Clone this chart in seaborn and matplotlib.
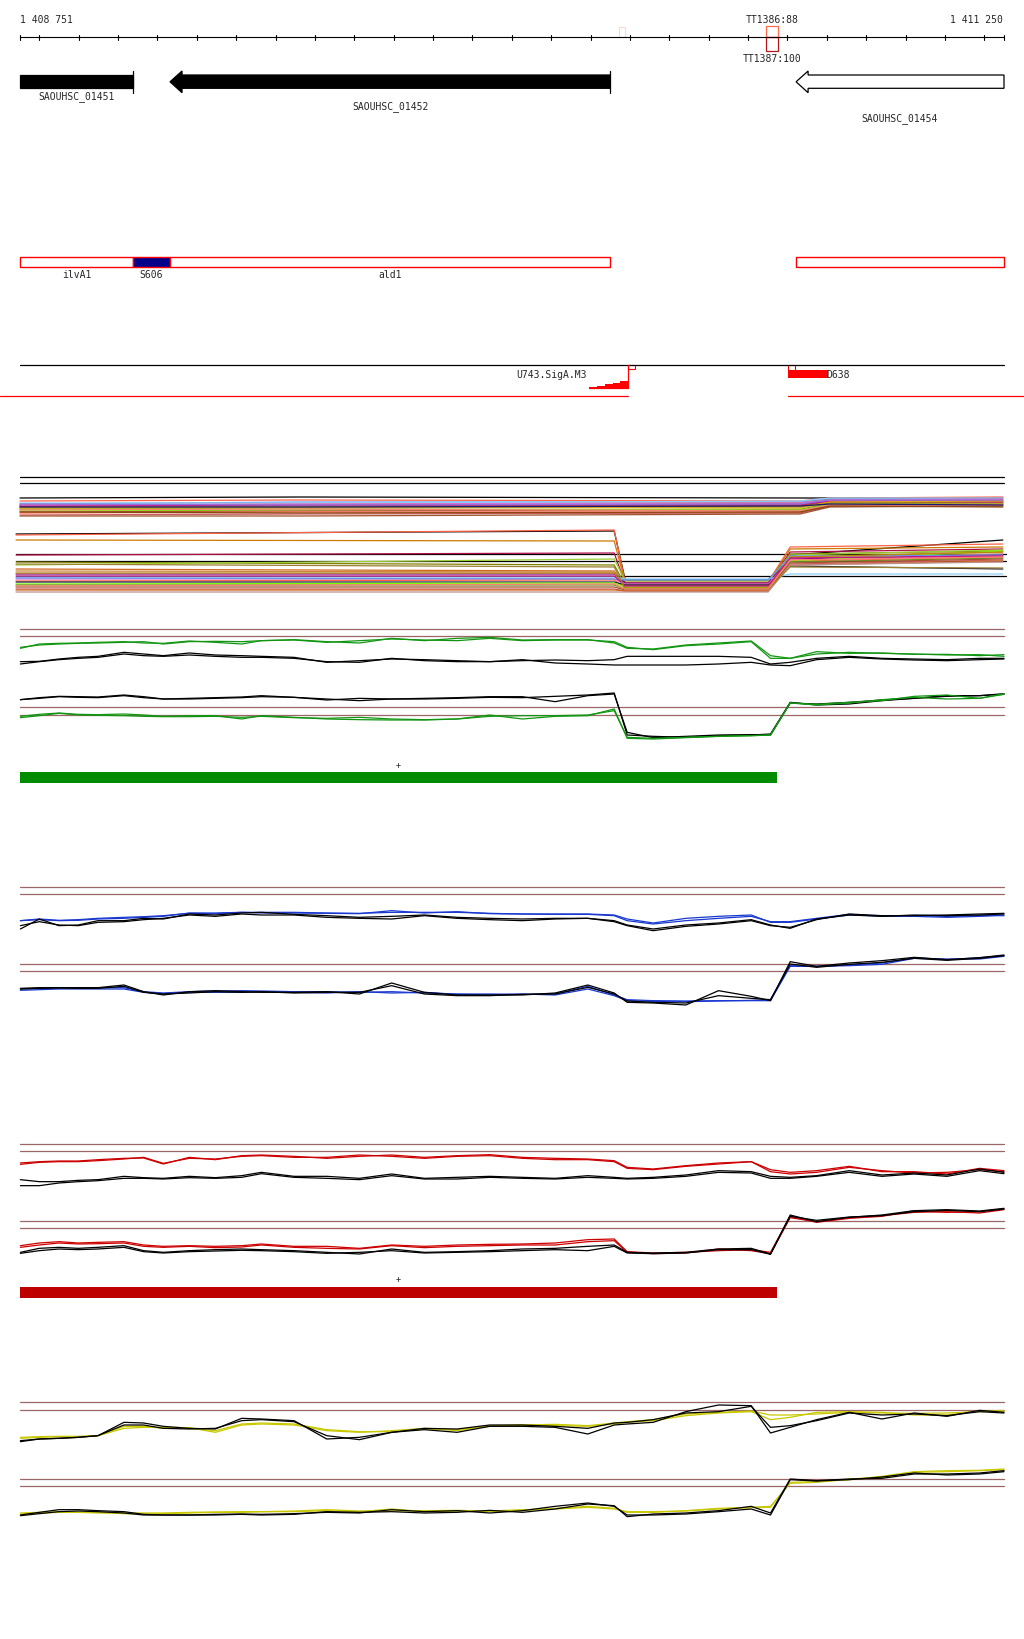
import numpy as np
import pandas as pd
import matplotlib.pyplot as plt
from matplotlib.patches import Rectangle
import seaborn as sns

sns.set_style("white")
plt.rcParams['font.family'] = ['DejaVu Sans Mono']

# ---------------- data ----------------
region_start, region_end = 1408751, 1411250

gene_names = ["SAOUHSC_01451", "SAOUHSC_01452", "SAOUHSC_01454"]
gene_start = [1408751, 1409132, 1410722]
gene_end = [1409038, 1410250, 1411250]
gene_fill = ["black", "black", "white"]
gene_arrow = [False, True, True]
gene_endtick = [True, True, False]
gene_label_y = [97, 106.5, 118.5]

term_names = ["TT1386:88", "TT1387:100"]
term_start = [1410646, 1410646]
term_end = [1410676, 1410676]
term_colors = ["#ff6a4a", "#b01818"]
faint_term = (1410271, 1410288)

feat_names = ["ilvA1", "S606", "ald1", ""]
feat_start = [1408751, 1409038, 1409132, 1410722]
feat_end = [1409038, 1409132, 1410250, 1411250]
feat_fill = ["white", "#00008b", "white", "white"]

# promoter ramp U743.SigA.M3 (stepped), and D638 block
u743_pos = [1410196, 1410216, 1410236, 1410256, 1410276, 1410295]
u743_height = [1.0, 2.5, 4.0, 5.5, 7.0, 7.0]
d638_start, d638_end = 1410702, 1410803
red_line_breaks = [(1408700, 1410295), (1410701, 1411301)]

# multi-sample track (many conditions), upper group
up_knots = [1408751, 1409462, 1410732, 1410808, 1411247]
up_colors = ["black", "tomato", "cornflowerblue", "chocolate", "purple", "peru",
             "olive", "darkgoldenrod", "lawngreen", "sienna", "tomato", "indianred",
             "sienna", "lightskyblue", "mediumvioletred", "yellowgreen", "orchid",
             "salmon", "goldenrod", "#8b4513", "mediumpurple", "midnightblue"]
up_levels = [
    [499, 498, 499, 499, 499], [502, 501, 502, 499, 498], [505, 503, 503, 500, 500],
    [506, 505, 504, 501, 501], [507, 507, 505, 502, 502], [508, 506, 506, 503, 503],
    [509, 508, 507, 503, 504], [510, 509, 508, 504, 504], [512, 511, 510, 505, 506],
    [513, 512, 511, 504, 505], [514, 513, 513, 506, 505], [516, 515, 514, 507, 507],
    [517, 517, 515, 508, 507], [504, 504, 502, 499, 499], [507, 506, 506, 502, 503],
    [510, 510, 511, 505, 505], [506, 505, 504, 501, 500], [511, 510, 512, 506, 506],
    [509, 508, 509, 503, 502], [513, 514, 513, 507, 508], [505, 506, 505, 501, 501],
    [508, 508, 507, 505, 506],
]
# lower group: left, left-end, dip, right-start, right-end
lo_knots = [1408741, 1410260, 1410288, 1410651, 1410707, 1411247]
lo_colors = ["black", "tomato", "#cc7a00", "#b0104a", "olive", "yellowgreen",
             "chocolate", "peru", "purple", "lightskyblue", "orchid", "tomato",
             "#1a1a40", "lawngreen", "olivedrab", "sienna", "indianred", "chocolate",
             "rosybrown", "cornflowerblue", "darkgoldenrod", "mediumvioletred",
             "#9b8030", "salmon"]
lo_levels = [
    [535, 532, 581, 556, 541], [536, 531, 583, 548, 545], [541, 542, 584, 550, 548],
    [556, 554, 585, 553, 550], [563, 566, 586, 555, 552], [566, 560, 582, 556, 551],
    [570, 572, 588, 558, 553], [572, 573, 587, 559, 555], [575, 575, 584, 560, 556],
    [578, 578, 580, 575, 575], [580, 580, 585, 561, 557], [582, 581, 589, 562, 558],
    [583, 583, 586, 567, 570], [585, 584, 588, 562, 552], [586, 586, 590, 563, 559],
    [588, 588, 591, 564, 560], [590, 590, 592, 565, 561], [591, 591, 592, 566, 562],
    [593, 593, 593, 566, 563], [579, 580, 581, 557, 556], [574, 574, 589, 558, 553],
    [577, 577, 587, 559, 557], [565, 568, 590, 568, 569], [587, 585, 590, 561, 558],
]
multi_ref_y = [478.3, 484.3, 555.3, 562.3, 577.3]

# coverage tracks: common positions
pos = [1408752, 1408800, 1408850, 1408899, 1408949, 1409015, 1409065, 1409115,
       1409181, 1409247, 1409314, 1409364, 1409447, 1409530, 1409613, 1409695,
       1409778, 1409861, 1409944, 1410027, 1410110, 1410193, 1410260, 1410293,
       1410359, 1410442, 1410525, 1410608, 1410657, 1410707, 1410774, 1410857,
       1410940, 1411022, 1411105, 1411188, 1411250]

green_up_a = [85, 78, 75, 73, 72, 70, 68, 75, 68, 67, 68, 65, 63, 70, 65, 60, 63, 65, 58,
              65, 63, 63, 68, 85, 92, 80, 75, 68, 118, 118, 105, 100, 103, 105, 108, 107, 112]
green_up_b = [88, 75, 73, 72, 70, 68, 72, 73, 66, 70, 75, 65, 62, 68, 72, 58, 65, 58, 55,
              63, 62, 62, 72, 88, 90, 78, 72, 66, 110, 118, 98, 103, 102, 106, 106, 110, 107]
green_upk_a = [128, 127, 120, 115, 112, 100, 105, 110, 102, 108, 110, 112, 115, 130, 125, 120, 122, 125, 128,
               125, 123, 125, 122, 112, 112, 112, 112, 115, 135, 130, 118, 112, 118, 120, 122, 118, 118]
green_upk_b = [135, 128, 122, 118, 115, 105, 110, 112, 108, 112, 115, 115, 118, 128, 130, 118, 125, 128, 128,
               122, 132, 135, 138, 138, 138, 138, 135, 130, 138, 140, 122, 115, 120, 123, 125, 122, 120]
green_lok_a = [242, 236, 232, 233, 234, 228, 233, 240, 238, 236, 234, 230, 235, 243, 238, 240, 240, 238, 235,
               236, 232, 228, 222, 348, 352, 355, 350, 348, 345, 250, 258, 255, 245, 238, 230, 230, 224]
green_lok_b = [242, 238, 233, 235, 236, 230, 236, 240, 240, 238, 236, 233, 235, 240, 245, 240, 238, 236, 233,
               233, 248, 230, 225, 340, 356, 352, 348, 347, 348, 252, 255, 250, 243, 238, 232, 230, 226]
green_lo_a = [296, 290, 283, 288, 289, 290, 292, 293, 293, 292, 295, 292, 296, 298, 295, 300, 302, 300, 292,
              290, 290, 288, 275, 355, 358, 355, 352, 350, 348, 252, 256, 250, 245, 232, 228, 238, 224]
green_lo_b = [292, 286, 282, 286, 287, 285, 288, 292, 290, 290, 300, 290, 295, 300, 302, 303, 303, 300, 288,
              300, 292, 290, 270, 358, 360, 356, 352, 350, 348, 252, 258, 252, 242, 235, 240, 238, 226]

blue_up_a = [125, 122, 125, 124, 120, 118, 115, 112, 102, 102, 100, 100, 100, 102, 103, 100, 100, 100, 103,
             105, 105, 105, 108, 120, 132, 118, 112, 108, 130, 130, 120, 108, 110, 110, 112, 110, 110]
blue_up_b = [125, 120, 124, 122, 118, 115, 113, 110, 103, 104, 100, 102, 102, 103, 104, 95, 102, 98, 104,
             105, 106, 106, 110, 125, 135, 125, 118, 112, 128, 128, 118, 106, 112, 112, 115, 112, 108]
blue_upk_a = [150, 120, 140, 138, 125, 125, 118, 120, 105, 108, 102, 100, 106, 110, 115, 112, 108, 115, 118,
              120, 118, 118, 128, 140, 155, 142, 135, 125, 140, 145, 122, 105, 110, 110, 108, 105, 103]
blue_upk_b = [140, 128, 138, 140, 130, 128, 122, 118, 108, 112, 105, 108, 108, 115, 118, 120, 110, 118, 122,
              125, 120, 118, 125, 138, 150, 138, 132, 122, 138, 148, 120, 108, 112, 108, 110, 108, 105]
blue_lo_a = [330, 328, 326, 326, 326, 326, 338, 342, 338, 336, 335, 336, 338, 338, 340, 338, 342, 345, 345,
             346, 345, 322, 348, 362, 365, 366, 365, 365, 365, 262, 262, 260, 256, 238, 240, 240, 232]
blue_lo_b = [334, 332, 330, 330, 330, 330, 340, 344, 340, 340, 340, 338, 340, 342, 338, 342, 340, 346, 348,
             345, 348, 330, 350, 365, 367, 368, 366, 364, 362, 260, 262, 258, 252, 236, 242, 236, 230]
blue_lok_a = [328, 326, 326, 326, 326, 318, 338, 348, 338, 335, 338, 340, 340, 338, 345, 312, 340, 348, 348,
              348, 342, 318, 342, 370, 372, 378, 335, 352, 365, 248, 262, 252, 245, 235, 242, 236, 228]
blue_lok_b = [330, 328, 327, 328, 328, 322, 340, 345, 342, 338, 340, 338, 342, 340, 340, 320, 345, 350, 350,
              346, 345, 325, 345, 366, 370, 372, 350, 358, 362, 255, 265, 256, 250, 238, 244, 238, 230]

red_up_a = [72, 68, 66, 66, 62, 58, 57, 75, 55, 62, 50, 48, 52, 58, 52, 48, 55, 50, 47,
            55, 58, 60, 65, 85, 90, 80, 72, 68, 98, 105, 100, 85, 95, 102, 100, 92, 98]
red_up_b = [76, 70, 68, 68, 65, 60, 55, 73, 58, 60, 52, 50, 55, 55, 48, 52, 58, 52, 50,
            58, 62, 62, 68, 88, 92, 82, 75, 68, 92, 100, 95, 82, 98, 98, 105, 88, 95]
red_upk_a = [122, 128, 128, 124, 122, 112, 116, 118, 112, 116, 110, 100, 112, 112, 118, 105, 118, 115, 112,
             115, 118, 110, 115, 118, 115, 108, 95, 98, 112, 115, 110, 95, 108, 102, 108, 90, 100]
red_upk_b = [140, 140, 132, 128, 125, 118, 118, 120, 116, 118, 115, 104, 115, 118, 122, 110, 120, 120, 115,
             118, 120, 115, 118, 120, 118, 112, 100, 102, 118, 118, 112, 100, 112, 105, 112, 95, 104]
red_lo_a = [320, 312, 308, 312, 310, 308, 318, 322, 320, 322, 320, 315, 322, 322, 328, 318, 322, 318, 316,
            315, 312, 302, 300, 338, 342, 340, 335, 332, 340, 232, 250, 238, 232, 215, 220, 218, 210]
red_lo_b = [325, 318, 312, 315, 314, 312, 322, 325, 322, 326, 324, 318, 325, 328, 330, 320, 326, 322, 320,
            318, 318, 308, 305, 340, 344, 342, 330, 335, 344, 236, 248, 236, 230, 220, 218, 222, 212]
red_lok_a = [340, 328, 325, 328, 325, 320, 335, 340, 335, 332, 330, 332, 335, 340, 345, 330, 340, 338, 335,
             330, 328, 322, 318, 340, 342, 340, 330, 328, 345, 228, 248, 235, 228, 215, 212, 216, 208]
red_lok_b = [343, 335, 330, 332, 330, 325, 338, 342, 338, 336, 334, 335, 338, 343, 340, 335, 342, 340, 338,
             335, 332, 335, 322, 342, 344, 342, 332, 332, 346, 232, 244, 234, 230, 218, 214, 218, 210]

yel_up_a = [145, 143, 142, 142, 140, 118, 115, 115, 116, 130, 108, 105, 108, 125, 130, 125, 118, 125, 110,
            108, 106, 110, 102, 98, 92, 75, 70, 66, 78, 78, 75, 70, 72, 73, 72, 68, 65]
yel_up_b = [148, 145, 143, 143, 140, 112, 112, 118, 118, 125, 105, 102, 105, 122, 128, 128, 120, 122, 112,
            108, 110, 112, 105, 100, 95, 80, 72, 68, 92, 85, 70, 68, 70, 78, 78, 65, 68]
yel_upk_a = [155, 150, 148, 145, 140, 100, 102, 112, 118, 120, 88, 90, 95, 150, 145, 130, 118, 120, 108,
             108, 112, 118, 102, 100, 92, 72, 68, 52, 115, 110, 95, 72, 78, 75, 80, 68, 72]
yel_upk_b = [158, 150, 148, 145, 140, 108, 108, 118, 120, 118, 95, 92, 98, 140, 152, 130, 122, 130, 112,
             112, 115, 135, 108, 105, 100, 68, 48, 50, 132, 115, 92, 70, 90, 72, 82, 64, 70]
yel_lo_a = [372, 370, 368, 370, 372, 372, 372, 372, 370, 369, 368, 368, 366, 362, 366, 366, 365, 364, 366,
            362, 360, 355, 360, 368, 368, 366, 360, 356, 355, 280, 278, 272, 262, 248, 245, 244, 240]
yel_lo_b = [375, 372, 370, 370, 370, 374, 375, 374, 372, 370, 370, 368, 368, 365, 368, 360, 368, 366, 368,
            365, 358, 352, 358, 370, 370, 365, 358, 355, 352, 283, 280, 270, 265, 250, 248, 245, 242]
yel_lok_a = [378, 370, 362, 362, 365, 368, 376, 378, 378, 378, 376, 378, 376, 368, 370, 368, 372, 370, 364,
             370, 360, 345, 350, 383, 375, 372, 365, 352, 372, 270, 275, 270, 268, 255, 255, 252, 245]
yel_lok_b = [380, 374, 368, 366, 368, 372, 378, 378, 378, 376, 375, 376, 374, 370, 372, 362, 368, 365, 372,
             365, 352, 342, 352, 378, 378, 375, 368, 360, 378, 272, 276, 272, 264, 252, 258, 255, 248]

# transcript blocks under green and red tracks
transcript_start, transcript_end = 1408751, 1410674

# ---------------- layout ----------------
W, H = 1024, 1640
bp_per_px = (region_end - region_start) / (1004 - 20)
XLIM = (region_start - 20 * bp_per_px, region_end + (W - 1004) * bp_per_px)
REF_COLOR = "#9c6666"

fig = plt.figure(figsize=(W / 100, H / 100), dpi=100)
ax = fig.add_axes([0, 0, 1, 1])
ax.set_xlim(*XLIM)
ax.set_ylim(H, 0)
ax.axis("off")

# ruler
ax.plot([region_start, region_end], [38, 38], color="black", lw=0.8)
ticks = [region_start] + list(range(1408800, region_end, 100)) + [region_end]
for t in ticks:
    ax.plot([t, t], [35.7, 40.7], color="black", lw=0.8)
ax.text(region_start, 20, f"{region_start:,}".replace(",", " "), ha="left", va="center", fontsize=7)
ax.text(region_end - 3, 20, f"{region_end:,}".replace(",", " "), ha="right", va="center", fontsize=7)

# terminators
ax.add_patch(Rectangle((faint_term[0], 28), faint_term[1] - faint_term[0], 10,
                       facecolor="white", edgecolor="#ffd8c8", lw=0.8))
ax.add_patch(Rectangle((term_start[0], 26.7), term_end[0] - term_start[0], 11.6,
                       facecolor="none", edgecolor=term_colors[0], lw=0.9))
ax.add_patch(Rectangle((term_start[1], 38.3), term_end[1] - term_start[1], 14,
                       facecolor="none", edgecolor=term_colors[1], lw=0.9))
tc = (term_start[0] + term_end[0]) / 2
ax.text(tc, 20, term_names[0], ha="center", va="center", fontsize=7)
ax.text(tc, 59, term_names[1], ha="center", va="center", fontsize=7)

# genes
head = 12 * bp_per_px
for name, s, e, fc, arr, tick, ly in zip(gene_names, gene_start, gene_end, gene_fill,
                                         gene_arrow, gene_endtick, gene_label_y):
    if arr:
        xs = [s, s + head, s + head, e, e, s + head, s + head]
        ys = [82.8, 72, 76, 76, 89.3, 89.3, 93.7]
    else:
        xs = [s, e, e, s]
        ys = [76, 76, 89.3, 89.3]
    ax.fill(xs, ys, facecolor=fc, edgecolor="black", lw=0.9)
    if tick:
        ax.plot([e, e], [72, 93.7], color="black", lw=0.9)
    ax.text((s + e) / 2, ly, name, ha="center", va="center", fontsize=7)

# operon / feature track
for name, s, e, fc in zip(feat_names, feat_start, feat_end, feat_fill):
    ax.add_patch(Rectangle((s, 258.3), e - s, 10, facecolor=fc, edgecolor="red", lw=1.0))
    if name:
        ax.text((s + e) / 2, 275.3, name, ha="center", va="center", fontsize=7)

# promoters
ax.plot([region_start, region_end], [366.3, 366.3], color="black", lw=0.9)
for a, b in red_line_breaks:
    ax.plot([a, b], [397, 397], color="red", lw=0.9)
ax.fill_between(u743_pos, [389.3 - h for h in u743_height], 389.3, step="post",
                color="red", lw=0)
ax.plot([u743_pos[-1], u743_pos[-1]], [366.3, 389.3], color="red", lw=0.9)
ax.plot([u743_pos[0], u743_pos[-1]], [389.3, 389.3], color="red", lw=0.9)
ax.add_patch(Rectangle((u743_pos[-1], 366.3), 17, 4, facecolor="white", edgecolor="red", lw=0.8))
ax.text(u743_pos[0] - 5, 375.5, "U743.SigA.M3", ha="right", va="center", fontsize=7)
ax.add_patch(Rectangle((d638_start, 370.7), d638_end - d638_start, 8.6, facecolor="red", lw=0))
ax.add_patch(Rectangle((d638_start, 366.3), 17, 4.4, facecolor="white", edgecolor="red", lw=0.8))
ax.text(d638_end - 4, 375.5, "D638", ha="left", va="center", fontsize=7)

# multi-sample track
for y in multi_ref_y[:2]:
    ax.plot([region_start, region_end], [y, y], color="black", lw=0.9)
for y in multi_ref_y[2:]:
    ax.plot([lo_knots[0], region_end + 5], [y, y], color="black", lw=0.9)
for col, lv in zip(up_colors, up_levels):
    sns.lineplot(x=up_knots, y=lv, color=col, lw=0.9, ax=ax, legend=False)
for col, lv in zip(lo_colors, lo_levels):
    yv = [lv[0], lv[1], lv[2], lv[2], lv[3], lv[4]]
    sns.lineplot(x=lo_knots, y=yv, color=col, lw=0.9, ax=ax, legend=False)
ax.set_xlim(*XLIM)
ax.set_ylim(H, 0)


def track_axes(top, height):
    a = fig.add_axes([0, 1 - (top + height) / H, 1, height / H])
    a.patch.set_alpha(0)
    a.axis("off")
    return a


def pair_track(top, height, refs, series, colors, bar=None):
    a = track_axes(top, height)
    for y in refs:
        a.plot([region_start, region_end], [y, y], color=REF_COLOR, lw=0.9)
    df = pd.DataFrame({"pos": pos * len(series),
                       "value": np.concatenate(series),
                       "line": np.repeat(np.arange(len(series)), len(pos))})
    sns.lineplot(data=df, x="pos", y="value", hue="line", palette=colors,
                 estimator=None, lw=0.9, ax=a, legend=False)
    if bar is not None:
        color, y0, y1, plus_y = bar
        a.add_patch(Rectangle((transcript_start, y0), transcript_end - transcript_start,
                              y1 - y0, facecolor=color, lw=0))
        a.text((transcript_start + transcript_end) / 2, plus_y, "+", ha="center",
               va="center", fontsize=6)
    a.set_xlim(*XLIM)
    a.set_ylim(height * 3, 0)
    a.axis("off")


GREEN, BLUE, RED, YEL = "#129612", "#1838d0", "#cc0000", "#c8c800"
pair_track(620, 170, [31, 52, 265, 287],
           [green_up_a, green_up_b, green_upk_a, green_upk_b,
            green_lok_a, green_lok_b, green_lo_a, green_lo_b],
           [GREEN, GREEN, "black", "black", "black", "black", GREEN, GREEN],
           bar=("#008c00", 458, 492, 438))
pair_track(880, 140, [25, 46, 256, 277],
           [blue_up_a, blue_up_b, blue_upk_a, blue_upk_b,
            blue_lo_a, blue_lo_b, blue_lok_a, blue_lok_b],
           [BLUE, BLUE, "black", "black", BLUE, BLUE, "black", "black"])
pair_track(1140, 160, [16, 37, 247, 268],
           [red_up_a, red_up_b, red_upk_a, red_upk_b,
            red_lo_a, red_lo_b, red_lok_a, red_lok_b],
           [RED, RED, "black", "black", RED, RED, "black", "black"],
           bar=("#bf0000", 443, 477, 420))
pair_track(1390, 140, [40, 62, 270, 292],
           [yel_up_a, yel_up_b, yel_upk_a, yel_upk_b,
            yel_lo_a, yel_lo_b, yel_lok_a, yel_lok_b],
           [YEL, YEL, "black", "black", YEL, YEL, "black", "black"])

fig.savefig("out.png", dpi=100, facecolor="white")
plt.close(fig)
